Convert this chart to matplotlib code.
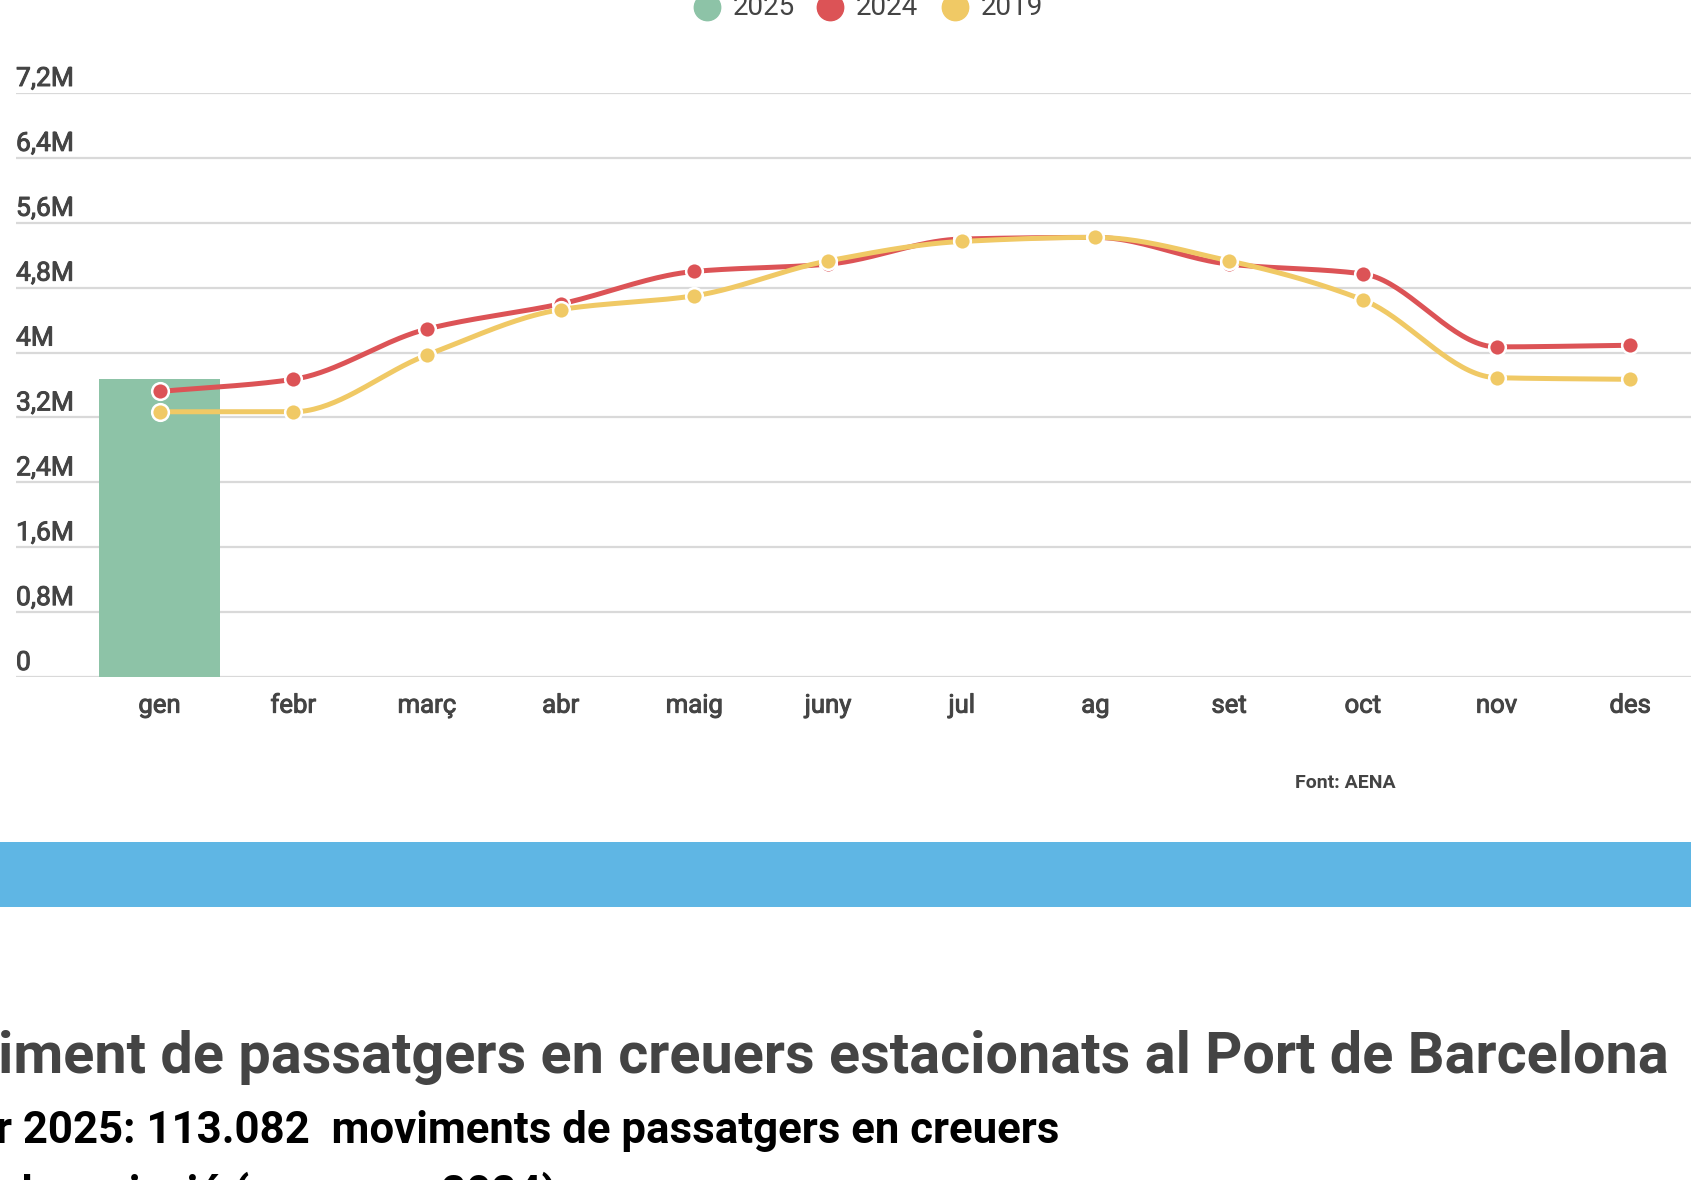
import numpy as np
import matplotlib
matplotlib.use("Agg")
import matplotlib.pyplot as plt
import matplotlib.patheffects as pe
from matplotlib.lines import Line2D

plt.rcParams['font.family'] = ['Roboto', 'DejaVu Sans']

# dades (passatgers / mes)
months = ['gen', 'febr', 'març', 'abr', 'maig', 'juny', 'jul', 'ag', 'set', 'oct', 'nov', 'des']
vals_2025 = [3.68e6]
vals_2024 = [3.52e6, 3.67e6, 4.29e6, 4.60e6, 5.00e6, 5.09e6, 5.40e6, 5.42e6, 5.09e6, 4.97e6, 4.07e6, 4.09e6]
vals_2019 = [3.27e6, 3.27e6, 3.97e6, 4.53e6, 4.70e6, 5.13e6, 5.37e6, 5.42e6, 5.13e6, 4.65e6, 3.69e6, 3.67e6]
y_ticks = [0, 0.8e6, 1.6e6, 2.4e6, 3.2e6, 4.0e6, 4.8e6, 5.6e6, 6.4e6, 7.2e6]
y_labels = ['0', '0,8M', '1,6M', '2,4M', '3,2M', '4M', '4,8M', '5,6M', '6,4M', '7,2M']

C_2025 = '#8dc3a7'
C_2024 = '#dc5356'
C_2019 = '#f0c965'
TXT = '#444444'
W, H = 1691, 1180

# "medium" simulat: contorn fi del mateix color
MED = [pe.withStroke(linewidth=0.7, foreground=TXT)]


def monotone(x, y, n=40):
    # corba monòtona (tipus d3 monotoneX) per suavitzar la línia
    x = np.asarray(x, float)
    y = np.asarray(y, float)
    h = np.diff(x)
    d = np.diff(y) / h
    m = np.zeros_like(y)
    m[0], m[-1] = d[0], d[-1]
    for i in range(1, len(y) - 1):
        if d[i - 1] * d[i] <= 0:
            m[i] = 0
        else:
            m[i] = 2 / (1 / d[i - 1] + 1 / d[i])
    xs, ys = [], []
    for i in range(len(h)):
        t = np.linspace(0, 1, n)
        h00 = 2 * t**3 - 3 * t**2 + 1
        h10 = t**3 - 2 * t**2 + t
        h01 = -2 * t**3 + 3 * t**2
        h11 = t**3 - t**2
        xs.append(x[i] + t * h[i])
        ys.append(h00 * y[i] + h10 * h[i] * m[i] + h01 * y[i + 1] + h11 * h[i] * m[i + 1])
    return np.concatenate(xs), np.concatenate(ys)


def fx(px):
    return px / W


def fy(py):
    return 1 - py / H


fig = plt.figure(figsize=(W / 100, H / 100), dpi=100)
fig.patch.set_facecolor('white')

ax_left, ax_right, ax_top, ax_bot = 16, 1691, 93, 677
ax = fig.add_axes([fx(ax_left), fy(ax_bot), (ax_right - ax_left) / W, (ax_bot - ax_top) / H])
x0, step = 159.6, 133.7
ax.set_xlim((ax_left - x0) / step, (ax_right - x0) / step)
ax.set_ylim(0, 7.2e6)
for s in ax.spines.values():
    s.set_visible(False)
ax.set_yticks(y_ticks)
ax.set_yticklabels([])
ax.tick_params(axis='y', length=0)
ax.grid(axis='y', color='#d9d9d9', linewidth=1.6, zorder=0)
ax.set_axisbelow(True)

xi = np.arange(len(months))
ax.set_xticks(xi)
ax.set_xticklabels(months, fontsize=18.5, color=TXT)
for t in ax.get_xticklabels():
    t.set_path_effects(MED)
ax.tick_params(axis='x', length=0, pad=12)

# etiquetes de l'eix y, damunt de cada línia
for v, lab in zip(y_ticks, y_labels):
    ax.annotate(lab, xy=(0, v), xycoords=('axes fraction', 'data'),
                xytext=(0, 2), textcoords='offset pixels', ha='left', va='bottom',
                fontsize=19, color=TXT, annotation_clip=False, path_effects=MED)

ax.bar(xi[:len(vals_2025)], vals_2025, width=0.9, color=C_2025, zorder=2)

for vals, col, z in [(vals_2019, C_2019, 4), (vals_2024, C_2024, 3)]:
    sx, sy = monotone(xi, vals)
    ax.plot(sx, sy, color=col, linewidth=3.6, solid_capstyle='round', zorder=z)
    ax.plot(xi, vals, 'o', color=col, markersize=12, markeredgecolor='white',
            markeredgewidth=1.8, zorder=z + 0.5)

# llegenda
for cx, col, lab in [(707, C_2025, '2025'), (830, C_2024, '2024'), (955, C_2019, '2019')]:
    fig.add_artist(Line2D([fx(cx)], [fy(7)], marker='o', color=col, markersize=19,
                          linestyle='none', transform=fig.transFigure))
    fig.text(fx(cx + 26), fy(15), lab, fontsize=20, color=TXT, ha='left', va='baseline')

fig.text(fx(1345), fy(783), 'Font: AENA', fontsize=14, color=TXT, fontweight='bold',
         ha='center', va='center')

# franja blava
fig.add_artist(plt.Rectangle((0, fy(907)), 1, (907 - 842) / H, transform=fig.transFigure,
                             color='#5fb6e4', linewidth=0))

fig.text(fx(-2), fy(1073), 'iment de passatgers en creuers estacionats al Port de Barcelona',
         fontsize=41.5, fontweight='bold', color=TXT, ha='left', va='baseline')
fig.text(fx(-4), fy(1143), 'r 2025: 113.082  moviments de passatgers en creuers',
         fontsize=31.5, fontweight='bold', color='black', ha='left', va='baseline')
fig.text(fx(8), fy(1207), 'de variació (vs. gener 2024)',
         fontsize=31.5, fontweight='bold', color='black', ha='left', va='baseline')

fig.savefig('out.png', dpi=100)
